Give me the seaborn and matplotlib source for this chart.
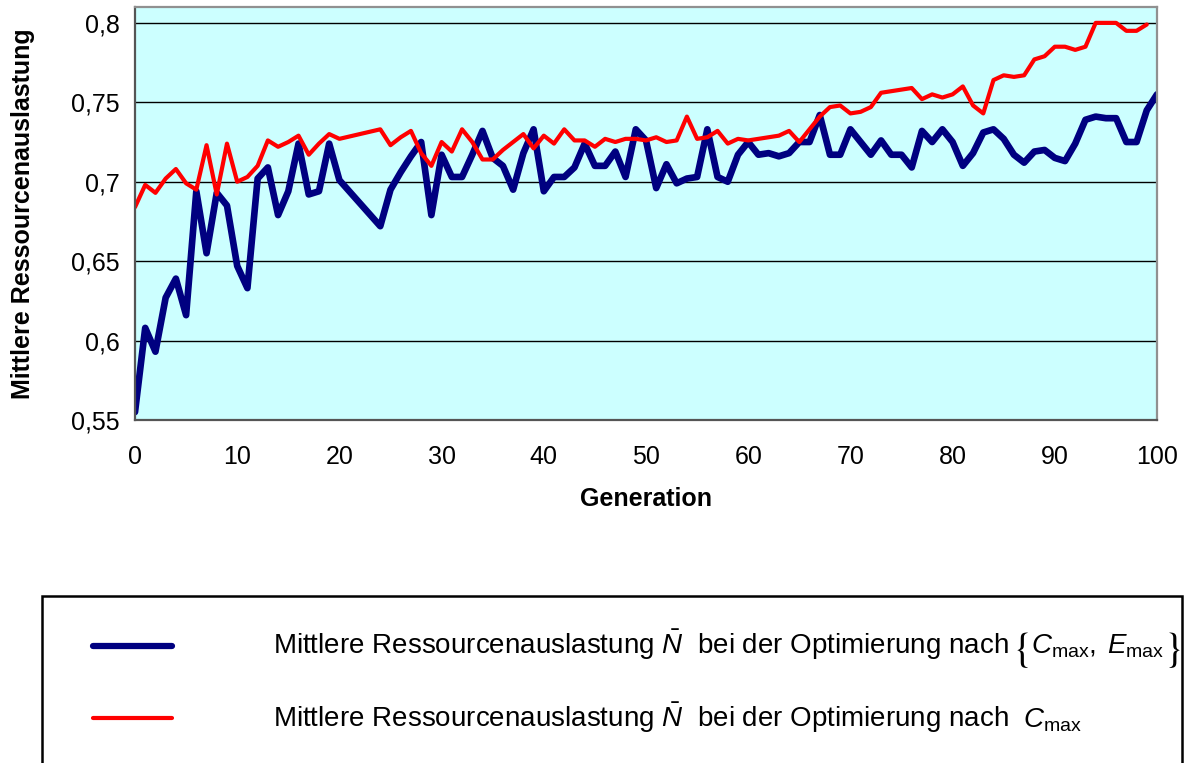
import matplotlib
matplotlib.use("Agg")
import matplotlib.pyplot as plt
import seaborn as sns
from matplotlib.patches import Rectangle
from matplotlib.lines import Line2D

sns.set_style("white")
plt.rcParams['font.family'] = ['Liberation Sans', 'DejaVu Sans']
plt.rcParams['mathtext.fontset'] = 'custom'
plt.rcParams['mathtext.rm'] = 'Liberation Sans'
plt.rcParams['mathtext.it'] = 'Liberation Sans:italic'
plt.rcParams['mathtext.bf'] = 'Liberation Sans:bold'
for key in ('text.color', 'axes.labelcolor', 'xtick.color', 'ytick.color'):
    plt.rcParams[key] = 'black'

# Generations 21-23 were not recorded
gen_both = list(range(0, 21)) + list(range(24, 101))
util_both = [
    0.555, 0.608, 0.593, 0.627, 0.639, 0.616, 0.694, 0.655, 0.693, 0.685,
    0.647, 0.633, 0.702, 0.709, 0.679, 0.694, 0.724, 0.692, 0.694, 0.724,
    0.701,
    0.672, 0.695, 0.706, 0.716, 0.725, 0.679,
    0.717, 0.703, 0.703, 0.717, 0.732, 0.715, 0.710, 0.695, 0.718, 0.733,
    0.694, 0.703, 0.703, 0.709, 0.724, 0.710, 0.710, 0.719, 0.703, 0.733,
    0.726, 0.696, 0.711, 0.699, 0.702, 0.703, 0.733, 0.703, 0.700, 0.717,
    0.725, 0.717, 0.718, 0.716, 0.718, 0.725, 0.725, 0.742, 0.717, 0.717,
    0.733, 0.725, 0.717, 0.726, 0.717, 0.717, 0.709, 0.732, 0.725, 0.733,
    0.725, 0.710, 0.718, 0.731, 0.733, 0.727, 0.717, 0.712, 0.719, 0.720,
    0.715, 0.713, 0.724, 0.739, 0.741, 0.740, 0.740, 0.725, 0.725, 0.745,
    0.755,
]

gen_cmax = list(range(0, 21)) + list(range(24, 100))
util_cmax = [
    0.684, 0.698, 0.693, 0.702, 0.708, 0.699, 0.695, 0.723, 0.692, 0.724,
    0.700, 0.703, 0.710, 0.726, 0.722, 0.725, 0.729, 0.717, 0.724, 0.730,
    0.727,
    0.733, 0.723, 0.728, 0.732, 0.718, 0.710,
    0.725, 0.719, 0.733, 0.725, 0.714, 0.714, 0.720, 0.725, 0.730, 0.721,
    0.729, 0.724, 0.733, 0.726, 0.726, 0.722, 0.727, 0.725, 0.727, 0.727,
    0.726, 0.728, 0.725, 0.726, 0.741, 0.727, 0.728, 0.732, 0.724, 0.727,
    0.726, 0.727, 0.728, 0.729, 0.732, 0.725, 0.733, 0.741, 0.747, 0.748,
    0.743, 0.744, 0.747, 0.756, 0.757, 0.758, 0.759, 0.752, 0.755, 0.753,
    0.755, 0.760, 0.748, 0.743, 0.764, 0.767, 0.766, 0.767, 0.777, 0.779,
    0.785, 0.785, 0.783, 0.785, 0.800, 0.800, 0.800, 0.795, 0.795, 0.799,
]

x_ticks = list(range(0, 101, 10))
y_ticks = [0.55, 0.6, 0.65, 0.7, 0.75, 0.8]
y_tick_labels = ["0,55", "0,6", "0,65", "0,7", "0,75", "0,8"]

label_stem = r"Mittlere Ressourcenauslastung $\bar{N}$  bei der Optimierung nach"
label_set = r"$C_{\mathrm{max}},\;E_{\mathrm{max}}$"
label_single = r"$C_{\mathrm{max}}$"

NAVY = "#000080"
RED = "#FF0000"

W, H = 1185, 763
fig = plt.figure(figsize=(W / 100, H / 100), dpi=100)
fig.patch.set_facecolor("white")
ax = fig.add_axes([135 / W, 1 - 420 / H, (1157 - 135) / W, (420 - 7) / H])
ax.set_facecolor("#CCFFFF")

sns.lineplot(x=gen_both, y=util_both, ax=ax, color=NAVY, linewidth=4.8,
             estimator=None, sort=False)
sns.lineplot(x=gen_cmax, y=util_cmax, ax=ax, color=RED, linewidth=3.0,
             estimator=None, sort=False)

ax.set_xlim(0, 100)
ax.set_ylim(0.55, 0.81)
ax.set_xticks(x_ticks)
ax.set_xticklabels([str(v) for v in x_ticks])
ax.set_yticks(y_ticks)
ax.set_yticklabels(y_tick_labels)
ax.yaxis.grid(True, color="black", linewidth=1.0)
ax.xaxis.grid(False)
ax.set_axisbelow(True)

for side in ("top", "right"):
    ax.spines[side].set_color("#909090")
    ax.spines[side].set_linewidth(1.6)
for side in ("left", "bottom"):
    ax.spines[side].set_color("#555555")
    ax.spines[side].set_linewidth(1.6)

ax.tick_params(axis="both", direction="out", length=6, width=1.4,
               color="#555555", labelsize=18, pad=5, labelcolor="black")
ax.tick_params(axis="x", pad=12)

ax.set_xlabel("Generation", fontsize=18, fontweight="bold", labelpad=13)
ax.set_ylabel("Mittlere Ressourcenauslastung", fontsize=18, fontweight="bold",
              labelpad=26)

# Legend panel below the chart
fig.add_artist(Rectangle((42 / W, 1 - 790 / H), (1182 - 42) / W, (790 - 596) / H,
                         transform=fig.transFigure, fill=False, edgecolor="black",
                         linewidth=1.8, clip_on=False))
fig.add_artist(Line2D([93 / W, 172 / W], [1 - 646 / H] * 2, color=NAVY,
                      linewidth=4.5, transform=fig.transFigure))
fig.add_artist(Line2D([93 / W, 172 / W], [1 - 718 / H] * 2, color=RED,
                      linewidth=3.0, transform=fig.transFigure))

renderer = fig.canvas.get_renderer()
FS = 20
BRACE_FS = 30

# first entry: stem text, then a braced set {C_max, E_max}
t1 = fig.text(273 / W, 1 - 654 / H, label_stem, fontsize=FS,
              va="baseline", ha="left")
stem_end = t1.get_window_extent(renderer).x1
brace_l = fig.text((stem_end + 3) / W, 1 - 650 / H, r"$\{$", fontsize=BRACE_FS,
                   math_fontfamily="stix", va="center", ha="left")
brace_end = brace_l.get_window_extent(renderer).x1
t_set = fig.text((brace_end + 2) / W, 1 - 654 / H, label_set, fontsize=FS,
                 va="baseline", ha="left")
set_end = t_set.get_window_extent(renderer).x1
fig.text((set_end - 1) / W, 1 - 650 / H, r"$\}$", fontsize=BRACE_FS,
         math_fontfamily="stix", va="center", ha="left")

# second entry
t2 = fig.text(273 / W, 1 - 727 / H, label_stem, fontsize=FS,
              va="baseline", ha="left")
stem_end2 = t2.get_window_extent(renderer).x1
fig.text((stem_end2 + 14) / W, 1 - 727 / H, label_single, fontsize=FS,
         va="baseline", ha="left")

fig.savefig("out.png", dpi=100)
